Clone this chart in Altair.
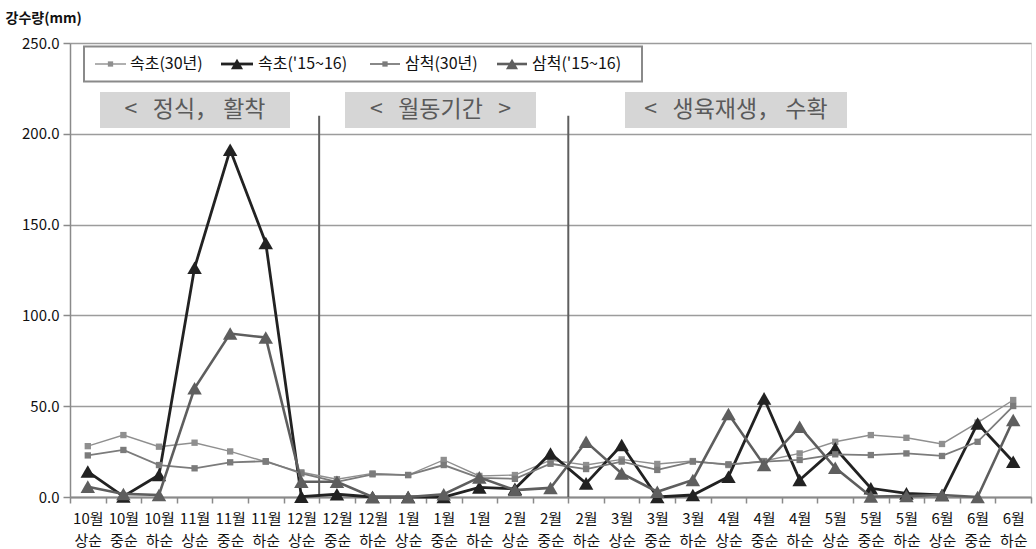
import altair as alt
import pandas as pd

# ---------------- data ----------------
categories = [
    "10월 상순", "10월 중순", "10월 하순",
    "11월 상순", "11월 중순", "11월 하순",
    "12월 상순", "12월 중순", "12월 하순",
    "1월 상순", "1월 중순", "1월 하순",
    "2월 상순", "2월 중순", "2월 하순",
    "3월 상순", "3월 중순", "3월 하순",
    "4월 상순", "4월 중순", "4월 하순",
    "5월 상순", "5월 중순", "5월 하순",
    "6월 상순", "6월 중순", "6월 하순",
]

sokcho_30 = [28.0, 34.1, 27.7, 29.9, 25.1, 19.4, 13.6, 9.8, 13.0, 12.1, 20.4, 11.6, 12.1, 20.3,
             17.6, 20.7, 18.2, 19.8, 17.6, 19.8, 24.0, 30.4, 34.1, 32.6, 29.2, 41.0, 53.4]
sokcho_1516 = [14.0, 0.3, 12.1, 126.2, 191.2, 139.9, 0.2, 1.5, 0.0, 0.0, 0.0, 5.3, 4.5, 24.0,
               7.5, 28.6, 0.0, 1.1, 11.2, 54.3, 9.4, 26.8, 4.8, 2.0, 1.1, 40.5, 19.4]
samcheok_30 = [22.9, 25.9, 17.6, 15.8, 19.1, 19.7, 13.0, 8.3, 12.5, 12.1, 17.6, 10.5, 10.0, 18.3,
               15.4, 19.5, 14.9, 19.5, 18.0, 19.5, 20.4, 23.5, 23.1, 24.0, 22.6, 30.4, 50.1]
samcheok_1516 = [5.7, 1.7, 1.1, 59.9, 90.0, 87.8, 8.4, 8.4, 0.0, 0.0, 1.5, 10.8, 3.8, 5.0,
                 30.4, 13.0, 2.9, 9.4, 45.7, 17.6, 38.7, 16.1, 0.3, 0.5, 1.1, 0.0, 42.4]

series_names = ["속초(30년)", "속초('15~16)", "삼척(30년)", "삼척('15~16)"]
series_values = [sokcho_30, sokcho_1516, samcheok_30, samcheok_1516]

NB = "\u00a0"
period_labels = [
    "<" + NB * 3 + "정식，" + NB + "활착",
    "<" + NB * 3 + "월동기간" + NB * 3 + ">",
    "<" + NB * 3 + "생육재생，" + NB + "수확",
]
separator_after = ["12월 상순", "2월 중순"]
separator_top = 210

y_ticks = [0, 50, 100, 150, 200, 250]

# ---------------- styles ----------------
series_colors = ["#8f8f8f", "#222222", "#7b7b7b", "#5e5e5e"]
series_shapes = ["square", "triangle-up", "square", "triangle-up"]
line_widths = [1.4, 2.8, 1.8, 2.6]
marker_sizes = [40, 210, 40, 210]

FONT = "Noto Sans CJK KR"
AXIS_GRAY = "#8a8a8a"
W, H = 961, 454

rows = []
for name, vals in zip(series_names, series_values):
    for c, v in zip(categories, vals):
        rows.append({"구간": c, "강수량": v, "계열": name})
df = pd.DataFrame(rows)

x_scale = alt.Scale(type="band", domain=categories, paddingInner=0, paddingOuter=0)
y_scale = alt.Scale(domain=[0, 250], nice=False, zero=True)

x_axis = alt.Axis(
    title=None, labelAngle=0,
    labelExpr="isValid(datum.value) ? split(datum.value, ' ') : ''",
    tickBand="extent", tickSize=6, tickColor=AXIS_GRAY, tickWidth=1.5,
    domainColor=AXIS_GRAY, domainWidth=2, labelFontSize=15, labelLineHeight=22,
    labelPadding=8, labelColor="#111111", grid=False, labelFont=FONT,
)
y_axis = alt.Axis(
    values=y_ticks, format=".1f", grid=True, gridColor="#9c9c9c", gridWidth=1.5,
    domainColor=AXIS_GRAY, domainWidth=1.5, tickColor=AXIS_GRAY, tickSize=7, tickWidth=1.5,
    labelFontSize=15, labelPadding=4, labelColor="#111111", labelFont=FONT,
    title="강수량(mm)", titleAngle=0, titleX=-65, titleY=-25, titleAlign="left",
    titleBaseline="middle", titleFontSize=14, titleFontWeight="bold", titleFont=FONT,
    titleColor="#111111",
)

layers = []

# period label boxes
period_boxes = [(30, 220), (275, 466), (555, 777)]
for (x0, x1), lab in zip(period_boxes, period_labels):
    layers.append(
        alt.Chart(alt.Data(values=[{}])).mark_rect(color="#d6d6d6").encode(
            x=alt.value(x0), x2=alt.value(x1), y=alt.value(49), y2=alt.value(85)
        )
    )
    layers.append(
        alt.Chart(alt.Data(values=[{}])).mark_text(
            text=lab, font=FONT, fontSize=23, color="#5a5a5a", align="center", baseline="middle"
        ).encode(x=alt.value((x0 + x1) / 2), y=alt.value(67))
    )

# separators
sep_df = pd.DataFrame({"구간": separator_after, "강수량": [separator_top] * len(separator_after),
                       "하단": [0] * len(separator_after)})
layers.append(
    alt.Chart(sep_df).mark_rule(color="#5f5f5f", strokeWidth=2).encode(
        x=alt.X("구간:N", scale=x_scale, axis=x_axis, bandPosition=1),
        y=alt.Y("강수량:Q", scale=y_scale, axis=y_axis),
        y2="하단:Q",
    )
)

# series
for name, col, shp, lw, ms in zip(series_names, series_colors, series_shapes, line_widths, marker_sizes):
    sub = df[df["계열"] == name]
    enc = dict(
        x=alt.X("구간:N", scale=x_scale, axis=x_axis, bandPosition=0.5, sort=categories),
        y=alt.Y("강수량:Q", scale=y_scale, axis=y_axis),
    )
    layers.append(alt.Chart(sub).mark_line(color=col, strokeWidth=lw).encode(**enc))
    layers.append(
        alt.Chart(sub).mark_point(shape=shp, filled=True, size=ms, color=col, opacity=1).encode(**enc)
    )

# legend
layers.append(
    alt.Chart(alt.Data(values=[{}])).mark_rect(fill="white", stroke=AXIS_GRAY, strokeWidth=2).encode(
        x=alt.value(14), x2=alt.value(572), y=alt.value(3.5), y2=alt.value(38.5)
    )
)
legend_line_x = [(25, 56), (151, 183), (300, 330), (427, 457)]
legend_text_x = [60, 188, 335, 462]
for name, col, shp, lw, ms, (lx0, lx1), tx in zip(series_names, series_colors, series_shapes,
                                                   line_widths, marker_sizes, legend_line_x, legend_text_x):
    ly = 21
    layers.append(
        alt.Chart(alt.Data(values=[{}])).mark_rule(color=col, strokeWidth=lw).encode(
            x=alt.value(lx0), x2=alt.value(lx1), y=alt.value(ly)
        )
    )
    layers.append(
        alt.Chart(alt.Data(values=[{}])).mark_point(shape=shp, filled=True, size=ms * 0.7, color=col,
                                                    opacity=1).encode(
            x=alt.value((lx0 + lx1) / 2), y=alt.value(ly)
        )
    )
    layers.append(
        alt.Chart(alt.Data(values=[{}])).mark_text(
            text=name, font=FONT, fontSize=16, color="#111111", align="left", baseline="middle"
        ).encode(x=alt.value(tx), y=alt.value(ly))
    )

chart = alt.layer(*layers).properties(
    width=W, height=H,
    padding={"left": 70, "top": 43, "right": 5, "bottom": 52},
    autosize=alt.AutoSizeParams(type="none"),
).configure_view(stroke=None).configure(font=FONT, background="white")

chart.save("out.html", embed_options={"renderer": "svg", "actions": False})
